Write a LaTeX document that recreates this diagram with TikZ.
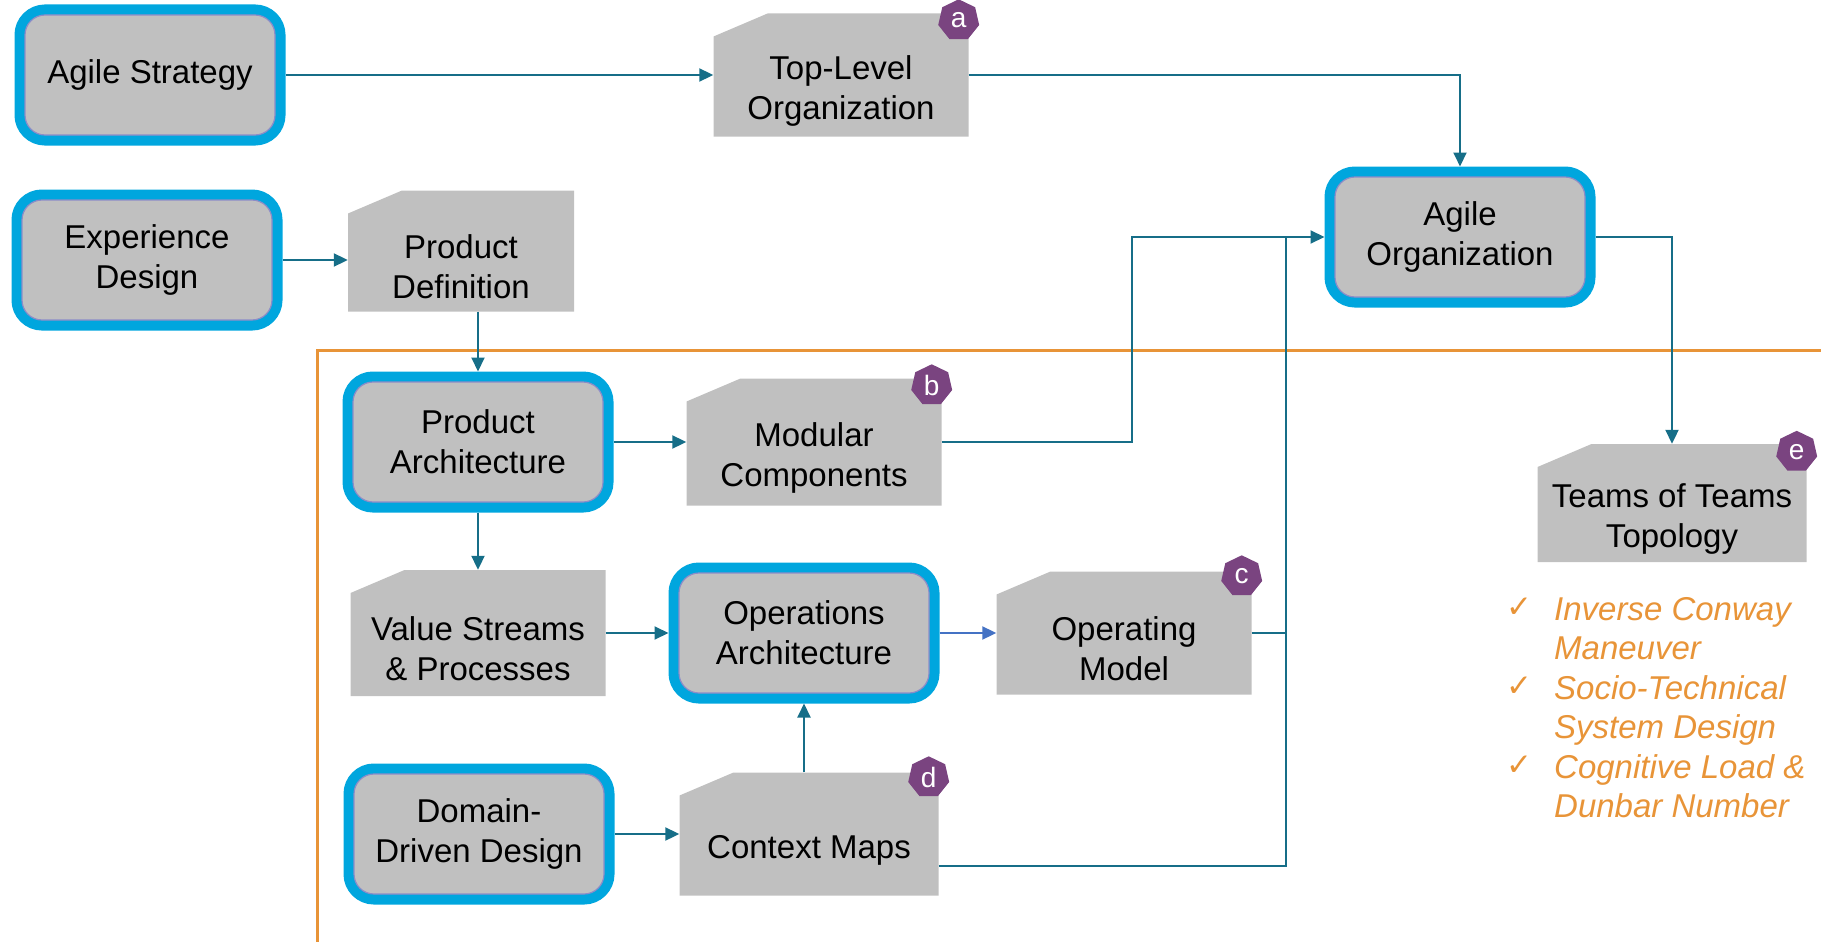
\documentclass[tikz,border=0pt]{standalone}
\usepackage{fontspec}
\setmainfont{Liberation Sans}
\newfontfamily\symbolfont{DejaVu Sans}
\usetikzlibrary{arrows.meta,shapes.geometric}

\definecolor{boxgray}{RGB}{192,192,192}
\definecolor{boxblue}{RGB}{0,166,222}
\definecolor{boxedge}{RGB}{140,140,200}
\definecolor{linkteal}{RGB}{22,110,136}
\definecolor{linkblue}{RGB}{68,114,196}
\definecolor{badgepurple}{RGB}{122,68,128}
\definecolor{frameorange}{RGB}{232,148,56}

\newcommand\boxfont{\fontsize{33}{40}\selectfont}
\newcommand\notefont{\fontsize{33}{40}\selectfont\itshape}

\tikzset{
  procbox/.style={draw=boxedge, line width=1.2pt, fill=boxgray, rounded corners=20pt,
    preaction={draw=boxblue, line width=21pt},
    minimum width=250pt, minimum height=120pt, inner sep=0pt, outer sep=10.5pt,
    align=center, font=\boxfont},
  docbox/.style={minimum width=255pt, minimum height=123pt, inner sep=0pt,
    path picture={\fill[boxgray] (path picture bounding box.south west)
      -- ([yshift=-23pt]path picture bounding box.north west)
      -- ([xshift=54pt]path picture bounding box.north west)
      -- (path picture bounding box.north east)
      -- (path picture bounding box.south east) -- cycle;},
    label={[doctext]center:#1}},
  doctext/.style={align=center, font=\boxfont, inner sep=0pt, yshift=-16pt},
  badge/.style={regular polygon, regular polygon sides=7, fill=badgepurple, text=white,
    minimum size=42pt, inner sep=0pt, font=\fontsize{28}{28}\selectfont},
  link/.style={draw=linkteal, line width=2pt, -{Triangle[length=14pt,width=13pt]}},
  plain/.style={draw=linkteal, line width=2pt},
  frame/.style={draw=frameorange, line width=3pt},
  checktext/.style={anchor=base west, inner sep=0pt, text=frameorange, font=\notefont},
  tick/.style={anchor=base, inner sep=0pt, text=frameorange, font=\fontsize{31}{31}\symbolfont}
}

\begin{document}
\begin{tikzpicture}[x=1pt,y=-1pt]
	\useasboundingbox (0,0) rectangle (1821,942);

	% frame round the design part
	\draw[frame] (317,942) |- (1821,350);

	% practices
	\node[procbox] (strat) at (150,75) {Agile Strategy};
	\node[procbox] (exper) at (147,260) {Experience\\Design};
	\node[procbox] (agorg) at (1460,237) {Agile\\Organization};
	\node[procbox] (parch) at (478,442) {Product\\Architecture};
	\node[procbox] (oarch) at (804,633) {Operations\\Architecture};
	\node[procbox] (ddd) at (479,834) {Domain-\\Driven Design};

	% work products
	\node[docbox={Top-Level\\Organization}] (toporg) at (841,75) {};
	\node[docbox={Product\\Definition}, minimum width=226pt, minimum height=121pt] (pdef) at (461,251) {};
	\node[docbox={Modular\\Components}, minimum height=127pt] (modc) at (814,442) {};
	\node[docbox={Teams of Teams\\Topology}, minimum width=269pt, minimum height=118pt] (teams) at (1672,503) {};
	\node[docbox={Value Streams\\\& Processes}, minimum height=126pt] (vstream) at (478,633) {};
	\node[docbox={Operating\\Model}] (opmod) at (1124,633) {};
	\node[docbox={Context Maps}, minimum width=259pt] (cmaps) at (809,834) {};

	\node[badge] (bdga) at ([xshift=-10pt,yshift=-7pt]toporg.north east) {a};
	\node[badge] (bdgb) at ([xshift=-10pt,yshift=-7pt]modc.north east) {b};
	\node[badge] (bdgc) at ([xshift=-10pt,yshift=-5pt]opmod.north east) {c};
	\node[badge] (bdgd) at ([xshift=-10pt,yshift=-5pt]cmaps.north east) {d};
	\node[badge] (bdge) at ([xshift=-10pt,yshift=-8pt]teams.north east) {e};

	% connectors
	\coordinate (busA) at (1132,237);
	\coordinate (busB) at (1286,237);
	\draw[link] (strat.east) -- (toporg.west);
	\draw[link] (toporg.east) -| (agorg.north);
	\draw[link] (exper.east) -- (exper.east -| pdef.west);
	\draw[link] (pdef.south -| parch.north) -- (parch.north);
	\draw[link] (parch.east) -- (modc.west);
	\draw[link] (parch.south) -- (vstream.north);
	\draw[link] (vstream.east) -- (oarch.west);
	\draw[link, draw=linkblue] (oarch.east) -- (opmod.west);
	\draw[link] (ddd.east) -- (cmaps.west);
	\draw[link] (cmaps.north -| oarch.south) -- (oarch.south);
	\draw[link] (modc.east) -| (busA) -- (agorg.west);
	\draw[plain] (opmod.east) -- (opmod.east -| busB);
	\draw[plain] ([yshift=-32pt]cmaps.east) -| (busB);
	\draw[link] (agorg.east) -| (teams.north);

	% notes below the topology
	\foreach \k/\txt in {0/Inverse Conway,1/Maneuver,2/Socio-Technical,3/System Design,4/Cognitive Load \&,5/Dunbar Number}
		\node[checktext] (note\k) at (1554,{620+39.5*\k}) {\txt};
	\foreach \k in {0,2,4}
		\node[tick] (tick\k) at (1519,{617+39.5*\k}) {✓};
\end{tikzpicture}
\end{document}
